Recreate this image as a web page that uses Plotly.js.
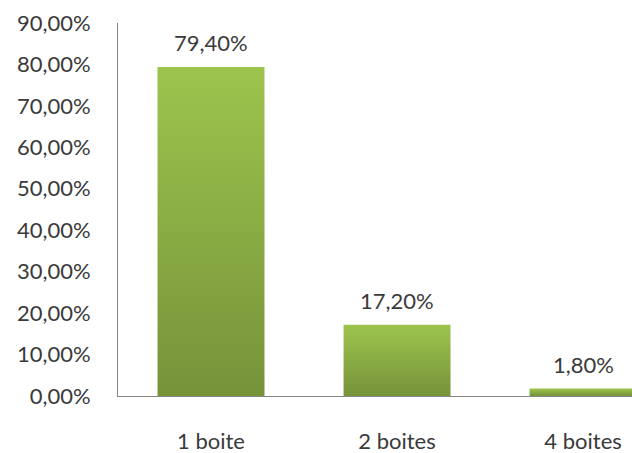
<!DOCTYPE html>
<html>
<head>
<meta charset="utf-8">
<script src="https://cdn.plot.ly/plotly-3.0.1.min.js"></script>
<style>
  html, body { margin: 0; padding: 0; background: #fff; }
  #chart { width: 632px; height: 453px; }
</style>
</head>
<body>
<div id="chart"></div>
<script>
const categories = ["1 boite", "2 boites", "4 boites"];
const values = [0.794, 0.172, 0.018];
const labels = values.map(v => (v * 100).toFixed(2).replace('.', ',') + '%');

const FONT = "Lato, 'Open Sans', sans-serif";
const TXT = "#3a3a3a";

const trace = {
  type: 'bar',
  x: categories,
  y: values,
  width: 0.575,
  marker: { color: '#8bb043', line: { width: 0 } },
  hoverinfo: 'none'
};

const annotations = categories.map((c, i) => ({
  x: c, y: values[i], text: labels[i],
  xref: 'x', yref: 'y', showarrow: false,
  yanchor: 'bottom', yshift: 9,
  font: { family: FONT, size: 22, color: TXT }
}));

const layout = {
  width: 632, height: 453,
  margin: { l: 118, r: 0, t: 23, b: 57 },
  paper_bgcolor: '#fff', plot_bgcolor: '#fff',
  separators: ',.',
  showlegend: false,
  font: { family: FONT, size: 22, color: TXT },
  xaxis: {
    type: 'category',
    range: [-0.5, 2.263],
    showline: true, linecolor: '#868686', linewidth: 1,
    ticks: '', showgrid: false, zeroline: false,
    ticklabelstandoff: 26,
    tickfont: { family: FONT, size: 22, color: TXT }
  },
  yaxis: {
    range: [0, 0.9],
    dtick: 0.1, tick0: 0,
    tickformat: '.2%',
    showline: true, linecolor: '#868686', linewidth: 1,
    ticks: '', showgrid: false, zeroline: false,
    ticklabelstandoff: 22,
    tickfont: { family: FONT, size: 22, color: TXT }
  },
  annotations: annotations
};

Plotly.newPlot('chart', [trace], layout, { staticPlot: true, displayModeBar: false }).then(gd => {
  const svg = gd.querySelector('svg.main-svg');
  const ns = 'http://www.w3.org/2000/svg';
  let defs = svg.querySelector('defs');
  if (!defs) { defs = document.createElementNS(ns, 'defs'); svg.insertBefore(defs, svg.firstChild); }
  const grad = document.createElementNS(ns, 'linearGradient');
  grad.setAttribute('id', 'barGrad');
  grad.setAttribute('x1', '0'); grad.setAttribute('y1', '0');
  grad.setAttribute('x2', '0'); grad.setAttribute('y2', '1');
  [['0', '#9dc44d'], ['1', '#76933a']].forEach(([o, c]) => {
    const s = document.createElementNS(ns, 'stop');
    s.setAttribute('offset', o); s.setAttribute('stop-color', c);
    grad.appendChild(s);
  });
  defs.appendChild(grad);
  gd.querySelectorAll('.bars .point path').forEach(p => { p.style.fill = 'url(#barGrad)'; });
});
</script>
</body>
</html>
